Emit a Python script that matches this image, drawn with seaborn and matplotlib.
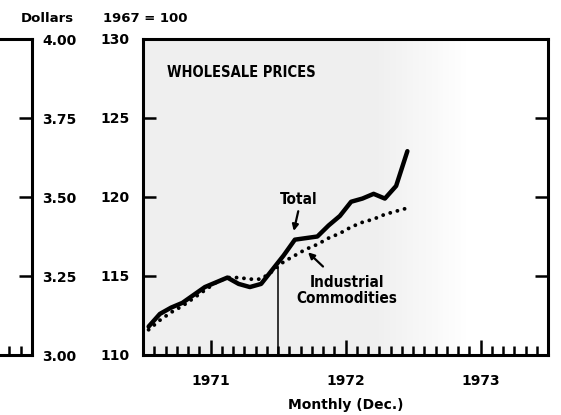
import numpy as np
import pandas as pd
import matplotlib
matplotlib.use("Agg")
import matplotlib.pyplot as plt
from matplotlib import font_manager
import seaborn as sns

# ---------------- data ----------------
months = np.arange(24) + 0.5  # Jan 1971 .. Dec 1972 (month centres)
total = [111.8, 112.6, 113.0, 113.3, 113.8, 114.3, 114.6, 114.9, 114.5, 114.3, 114.5, 115.4,
         116.3, 117.3, 117.4, 117.5, 118.2, 118.8, 119.7, 119.9, 120.2, 119.9, 120.7, 122.9]
industrial = [111.6, 112.2, 112.7, 113.1, 113.6, 114.1, 114.6, 114.9, 114.9, 114.8, 114.8, 115.3,
              115.9, 116.3, 116.7, 117.0, 117.4, 117.7, 118.1, 118.4, 118.6, 118.9, 119.1, 119.3]
year_labels = ["1971", "1972", "1973"]
year_label_pos = [6, 18, 30]
index_ticks = [110, 115, 120, 125, 130]
dollar_ticks = [3.00, 3.25, 3.50, 3.75, 4.00]
marker_month = 12
marker_top = 115.5

df = pd.DataFrame({"month": np.concatenate([months, months]),
                   "value": total + industrial,
                   "series": ["Total"] * 24 + ["Industrial Commodities"] * 24})

sns.set_style("white")
plt.rcParams["font.family"] = ["DejaVu Sans"]
plt.rcParams["font.weight"] = "bold"
plt.rcParams["text.color"] = "black"
plt.rcParams["axes.edgecolor"] = "black"
plt.rcParams["xtick.color"] = "black"
plt.rcParams["ytick.color"] = "black"
plt.rcParams["axes.labelcolor"] = "black"

names = {f.name for f in font_manager.fontManager.ttflist}
cond_family = "Liberation Sans Narrow" if "Liberation Sans Narrow" in names else "DejaVu Sans"

W, H = 561, 415
fig = plt.figure(figsize=(W / 100, H / 100), dpi=100)

def fx(px):
    return px / W

def fy(py):
    return 1 - py / H

top_px, bot_px = 39, 355
left_px, right_px = 143, 548
ax = fig.add_axes([fx(left_px), fy(bot_px), fx(right_px - left_px), (bot_px - top_px) / H])
axl = fig.add_axes([fx(-100), fy(bot_px), fx(132), (bot_px - top_px) / H])

# background stipple-like tint
grad = np.ones((50, 200))
xs = np.linspace(0, 36, 200)
grad = grad * np.clip((29 - xs) / 8, 0, 1)[None, :]
ax.imshow(grad, extent=[0, 36, 110, 130], aspect="auto", cmap="Greys", vmin=0, vmax=8,
          zorder=0, origin="lower")

sns.lineplot(data=df[df.series == "Total"], x="month", y="value", ax=ax,
             color="black", lw=3.2, legend=False, zorder=3)
sns.lineplot(data=df[df.series == "Industrial Commodities"], x="month", y="value", ax=ax,
             color="black", lw=2.8, legend=False, zorder=3,
             linestyle=(0, (0.01, 1.9)), dash_capstyle="round")

ax.vlines(marker_month, 110, marker_top, color="black", lw=1.1, zorder=2)

ax.set_xlim(0, 36)
ax.set_ylim(110, 130)
ax.set_xlabel("")
ax.set_ylabel("")

for sp in ax.spines.values():
    sp.set_linewidth(2.2)
    sp.set_visible(True)
    sp.set_color("black")
for sp in axl.spines.values():
    sp.set_linewidth(2.2)
    sp.set_color("black")
axl.spines["left"].set_visible(False)

# y ticks main
ax.set_yticks(index_ticks)
ax.set_yticklabels([str(t) for t in index_ticks], fontsize=10, fontweight="bold")
ax.tick_params(axis="y", which="major", direction="in", length=9.5, width=1.8,
               left=True, right=True, labelleft=True, labelright=False, pad=9.5)
# x ticks
ax.set_xticks(year_label_pos)
ax.set_xticklabels(year_labels, fontsize=10, fontweight="bold")
ax.set_xticks([m for m in range(1, 36) if m not in year_label_pos], minor=True)
ax.tick_params(axis="x", which="major", direction="in", length=10.5, width=1.8, pad=14,
               bottom=True, top=False)
ax.tick_params(axis="x", which="minor", direction="in", length=6.5, width=1.8,
               bottom=True, top=False)

# left (cut-off) panel
axl.set_xlim(-11.73, 0)
axl.set_ylim(3.0, 4.0)
axl.set_yticks(dollar_ticks)
axl.set_yticklabels([f"{t:.2f}" for t in dollar_ticks], fontsize=10, fontweight="bold")
axl.yaxis.tick_right()
axl.tick_params(axis="y", which="major", direction="in", length=9.5, width=1.8,
                left=False, right=True, labelright=True, labelleft=False, pad=7.5)
axl.set_xticks([])
axl.set_xticks([-1, -2, -3, -4, -5, -7, -8, -9, -10, -11], minor=True)
axl.tick_params(axis="x", which="minor", direction="in", length=6.5, width=1.8, bottom=True)
axl.set_facecolor("white")

# headers
fig.text(fx(47.5), fy(19), "Dollars", ha="center", va="center", fontsize=9.5, fontweight="bold")
fig.text(fx(103), fy(19), "1967 = 100", ha="left", va="center", fontsize=9.5, fontweight="bold")
fig.text(fx(346), fy(405), "Monthly (Dec.)", ha="center", va="center", fontsize=10,
         fontweight="bold")

# annotations
ax.text(2.1, 127.9, "WHOLESALE PRICES", ha="left", va="center", fontsize=10.5,
        fontweight="heavy", family=cond_family, fontstretch="condensed")
ax.text(13.87, 119.87, "Total", ha="center", va="center", fontsize=11,
        fontweight="heavy", family=cond_family, fontstretch="condensed")
ax.annotate("", xy=(13.4, 117.85), xytext=(13.8, 119.1),
            arrowprops=dict(arrowstyle="-|>", color="black", lw=1.6, mutation_scale=9,
                            shrinkA=0, shrinkB=0))
ax.text(18.1, 114.1, "Industrial\nCommodities", ha="center", va="center", fontsize=11,
        fontweight="heavy", family=cond_family, fontstretch="condensed", linespacing=1.1)
ax.annotate("", xy=(14.67, 116.5), xytext=(16.0, 115.6),
            arrowprops=dict(arrowstyle="-|>", color="black", lw=1.6, mutation_scale=9,
                            shrinkA=0, shrinkB=0))

fig.savefig("out.png", dpi=100)
